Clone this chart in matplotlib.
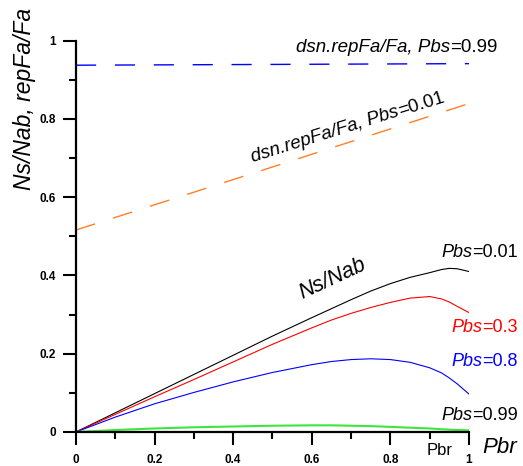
import numpy as np
import matplotlib
matplotlib.use("Agg")
import matplotlib.pyplot as plt

plt.rcParams['font.family'] = ['Liberation Sans', 'DejaVu Sans']

# Pbr grid and Ns/Nab curves
pbr = [0, 0.1, 0.2, 0.3, 0.4, 0.5, 0.6, 0.65, 0.7, 0.75, 0.8, 0.85, 0.9, 0.93, 0.95, 0.97, 1.0]
ns_001 = [0, 0.049, 0.098, 0.147, 0.196, 0.245, 0.292, 0.315, 0.338, 0.360, 0.379, 0.395, 0.407, 0.415, 0.418, 0.417, 0.410]
ns_03 = [0, 0.045, 0.090, 0.134, 0.179, 0.224, 0.266, 0.286, 0.303, 0.318, 0.331, 0.342, 0.346, 0.340, 0.332, 0.321, 0.305]
ns_08 = [0, 0.038, 0.072, 0.101, 0.128, 0.152, 0.172, 0.180, 0.185, 0.187, 0.185, 0.178, 0.164, 0.151, 0.138, 0.123, 0.097]
ns_099 = [0, 0.005, 0.009, 0.012, 0.014, 0.016, 0.017, 0.017, 0.016, 0.015, 0.013, 0.011, 0.009, 0.007, 0.006, 0.005, 0.004]

# design repFa/Fa lines
pbr_dsn = [0, 0.5, 1.0]
dsn_001 = [0.516, 0.677, 0.839]
dsn_099 = [0.937, 0.939, 0.941]

xticks = [0, 0.2, 0.4, 0.6, 0.8, 1]
xticklabels = ['0', '0.2', '0.4', '0.6', '0.8', '1']
yticks = [0, 0.2, 0.4, 0.6, 0.8, 1]
yticklabels = ['0', '0.2', '0.4', '0.6', '0.8', '1']

fig = plt.figure(figsize=(5.23, 4.66), dpi=100)
ax = fig.add_axes([0.1453, 0.073, 0.7514, 0.840])


def mixed_text(x, y, it_part, rm_part, rotation=0, right=False, **kw):
    # italic part followed by upright part, along the same baseline
    r = fig.canvas.get_renderer()
    widths = []
    for s, st in ((it_part, 'italic'), (rm_part, 'normal')):
        tmp = ax.text(0, 0, s, style=st, **kw)
        widths.append(tmp.get_window_extent(r).width)
        tmp.remove()
    th = np.radians(rotation)
    x0, y0 = ax.transData.transform((x, y))
    if right:
        tot = sum(widths)
        x0, y0 = x0 - tot * np.cos(th), y0 - tot * np.sin(th)
    x1, y1 = x0 + widths[0] * np.cos(th), y0 + widths[0] * np.sin(th)
    p0 = ax.transData.inverted().transform((x0, y0))
    p1 = ax.transData.inverted().transform((x1, y1))
    ax.text(p0[0], p0[1], it_part, style='italic', rotation=rotation, rotation_mode='anchor',
            ha='left', va='baseline', clip_on=False, **kw)
    ax.text(p1[0], p1[1], rm_part, rotation=rotation, rotation_mode='anchor',
            ha='left', va='baseline', clip_on=False, **kw)


ax.plot(pbr_dsn, dsn_099, color='#0000ff', lw=1.0, dashes=(14.5, 13.5))
ax.plot(pbr_dsn, dsn_001, color='#ff7f27', lw=1.0, dashes=(14.5, 13.5))
ax.plot(pbr, ns_001, color='black', lw=0.8)
ax.plot(pbr, ns_03, color='#ff0000', lw=0.8)
ax.plot(pbr, ns_08, color='#0000ff', lw=0.8)
ax.plot(pbr, ns_099, color='#3ce63c', lw=1.5)

ax.set_xlim(0, 1)
ax.set_ylim(0, 1)
ax.spines['top'].set_visible(False)
ax.spines['right'].set_visible(False)
ax.spines['left'].set_linewidth(1.6)
ax.spines['bottom'].set_linewidth(1.6)

ax.set_xticks(xticks)
ax.set_xticklabels(xticklabels)
ax.set_yticks(yticks)
ax.set_yticklabels(yticklabels)
ax.set_xticks(np.arange(0.1, 1.0, 0.2), minor=True)
ax.set_yticks(np.arange(0.1, 1.0, 0.2), minor=True)
ax.tick_params(which='major', direction='out', length=9.5, width=1.5, labelsize=8.5)
ax.tick_params(which='minor', direction='out', length=5, width=1.5)
ax.tick_params(axis='x', pad=6)
ax.tick_params(axis='y', pad=5)
for lab in ax.get_xticklabels() + ax.get_yticklabels():
    lab.set_fontweight('bold')

# labels
ax.text(-0.13, 0.851, 'Ns/Nab, repFa/Fa', rotation=90, ha='center', va='center',
        fontsize=16.5, style='italic', clip_on=False)
ax.text(1.033, -0.054, 'Pbr', fontsize=16, style='italic', ha='left', va='baseline', clip_on=False)
ax.text(0.926, -0.059, 'Pbr', fontsize=12, ha='center', va='baseline', clip_on=False)

mixed_text(0.56, 0.971, 'dsn.repFa/Fa, Pbs', '=0.99', fontsize=13.5)
mixed_text(0.45, 0.69, 'dsn.repFa/Fa, Pbs', '=0.01', rotation=17.5, fontsize=13.5)
ax.text(0.575, 0.34, 'Ns/Nab', fontsize=15.5, style='italic', rotation=25,
        rotation_mode='anchor', ha='left', va='baseline')

mixed_text(1.125, 0.447, 'Pbs', '=0.01', right=True, fontsize=13, color='black')
mixed_text(1.125, 0.255, 'Pbs', '=0.3', right=True, fontsize=13, color='#ff0000')
mixed_text(1.125, 0.169, 'Pbs', '=0.8', right=True, fontsize=13, color='#0000ff')
mixed_text(1.125, 0.031, 'Pbs', '=0.99', right=True, fontsize=13, color='black')

fig.savefig('out.png', dpi=100)
